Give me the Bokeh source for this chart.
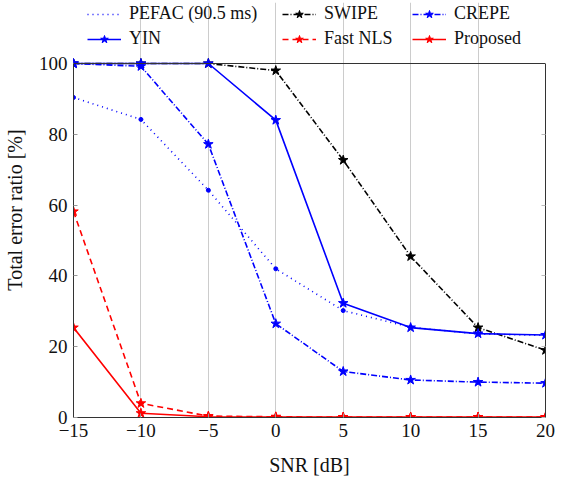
from bokeh.plotting import figure
from bokeh.models import Legend, LegendItem, LinearAxis, FixedTicker, Range1d, Span
from bokeh.embed import file_html
from bokeh.resources import INLINE

snr = [-15, -10, -5, 0, 5, 10, 15, 20]
pefac = [90.4, 84.2, 64.2, 42.0, 30.2, 25.5, 23.6, 23.2]
swipe = [100, 100, 100, 98.0, 72.7, 45.5, 25.4, 19.0]
crepe = [100, 99.2, 77.2, 26.5, 13.0, 10.6, 10.0, 9.7]
yin = [100, 100, 100, 84.0, 32.3, 25.4, 23.7, 23.3]
fastnls = [58.2, 4.0, 0.4, 0.2, 0.1, 0.1, 0.1, 0.1]
proposed = [25.4, 1.2, 0.2, 0.1, 0.1, 0.1, 0.1, 0.1]

x_ticks = [-15, -10, -5, 0, 5, 10, 15, 20]
y_ticks = [0, 20, 40, 60, 80, 100]

FONT = "Liberation Serif"
YMAX = 100
YTOP = 100 * 415 / 354  # room above the axes box for the legend

p = figure(width=562, height=484, output_backend="svg", toolbar_location=None,
           x_range=Range1d(-15, 20), y_range=Range1d(0, YTOP))
p.min_border_left = 72
p.min_border_right = 17
p.min_border_bottom = 67
p.min_border_top = 2
p.outline_line_color = None

p.xaxis.ticker = FixedTicker(ticks=x_ticks)
p.yaxis.ticker = FixedTicker(ticks=y_ticks)
p.yaxis.bounds = (0, YMAX)
p.xaxis.major_label_overrides = {t: (f"\u2212{abs(t)}" if t < 0 else str(t)) for t in x_ticks}
for ax in (p.xaxis[0], p.yaxis[0]):
    ax.major_label_text_font = FONT
    ax.major_label_text_font_size = "19px"
    ax.major_label_text_color = "#111111"
    ax.axis_label_text_font = FONT
    ax.axis_label_text_font_size = "20px"
    ax.axis_label_text_font_style = "normal"
    ax.axis_label_text_color = "#111111"
    ax.major_tick_in = 4
    ax.major_tick_out = 0
    ax.minor_tick_line_color = None
    ax.axis_line_color = "#333333"
    ax.major_tick_line_color = "#999999"
    ax.major_label_standoff = 6
p.xaxis.axis_label = "SNR [dB]"
p.yaxis.axis_label = "Total error ratio [%]"
p.xaxis.axis_label_standoff = 14
p.yaxis.axis_label_standoff = 10

right = LinearAxis(ticker=FixedTicker(ticks=y_ticks), bounds=(0, YMAX),
                   major_label_text_color=None, major_tick_in=4, major_tick_out=0,
                   minor_tick_line_color=None, axis_line_color="#333333",
                   major_tick_line_color="#bbbbbb", major_label_standoff=0)
p.add_layout(right, "right")
p.add_layout(Span(location=YMAX, dimension="width", line_color="#333333", line_width=1))

p.xgrid.grid_line_color = "#cccccc"
p.xgrid.grid_line_width = 1
p.xgrid.bounds = (0, YMAX)
p.ygrid.grid_line_color = None

lw = 1.6
ms = 10
r_pefac = p.line(snr, pefac, line_color="blue", line_width=lw, line_dash="1 4")
m_pefac = p.scatter(snr, pefac, marker="circle", size=4, color="blue")
r_swipe = p.line(snr, swipe, line_color="black", line_width=lw, line_dash="6 2 1 2")
m_swipe = p.scatter(snr, swipe, marker="star", size=ms, color="black")
r_crepe = p.line(snr, crepe, line_color="blue", line_width=lw, line_dash="6 2 1 2")
m_crepe = p.scatter(snr, crepe, marker="star", size=ms, color="blue")
r_yin = p.line(snr, yin, line_color="blue", line_width=lw)
m_yin = p.scatter(snr, yin, marker="star", size=ms, color="blue")
r_nls = p.line(snr, fastnls, line_color="red", line_width=lw, line_dash="6 4")
m_nls = p.scatter(snr, fastnls, marker="star", size=ms, color="red")
r_prop = p.line(snr, proposed, line_color="red", line_width=lw)
m_prop = p.scatter(snr, proposed, marker="star", size=ms, color="red")

columns = [
    (14, [("PEFAC (90.5 ms)", [r_pefac]), ("YIN", [r_yin, m_yin])]),
    (209, [("SWIPE", [r_swipe, m_swipe]), ("Fast NLS", [r_nls, m_nls])]),
    (339, [("CREPE", [r_crepe, m_crepe]), ("Proposed", [r_prop, m_prop])]),
]
for xloc, entries in columns:
    lg = Legend(items=[LegendItem(label=lab, renderers=rs) for lab, rs in entries])
    lg.label_text_font = FONT
    lg.label_text_font_size = "18px"
    lg.label_text_color = "#111111"
    lg.border_line_color = None
    lg.background_fill_alpha = 0
    lg.glyph_width = 34
    lg.label_standoff = 8
    lg.spacing = 4
    lg.padding = 2
    lg.margin = 0
    lg.location = (xloc, 368)
    p.add_layout(lg)

open("out.html", "w").write(file_html(p, INLINE))
